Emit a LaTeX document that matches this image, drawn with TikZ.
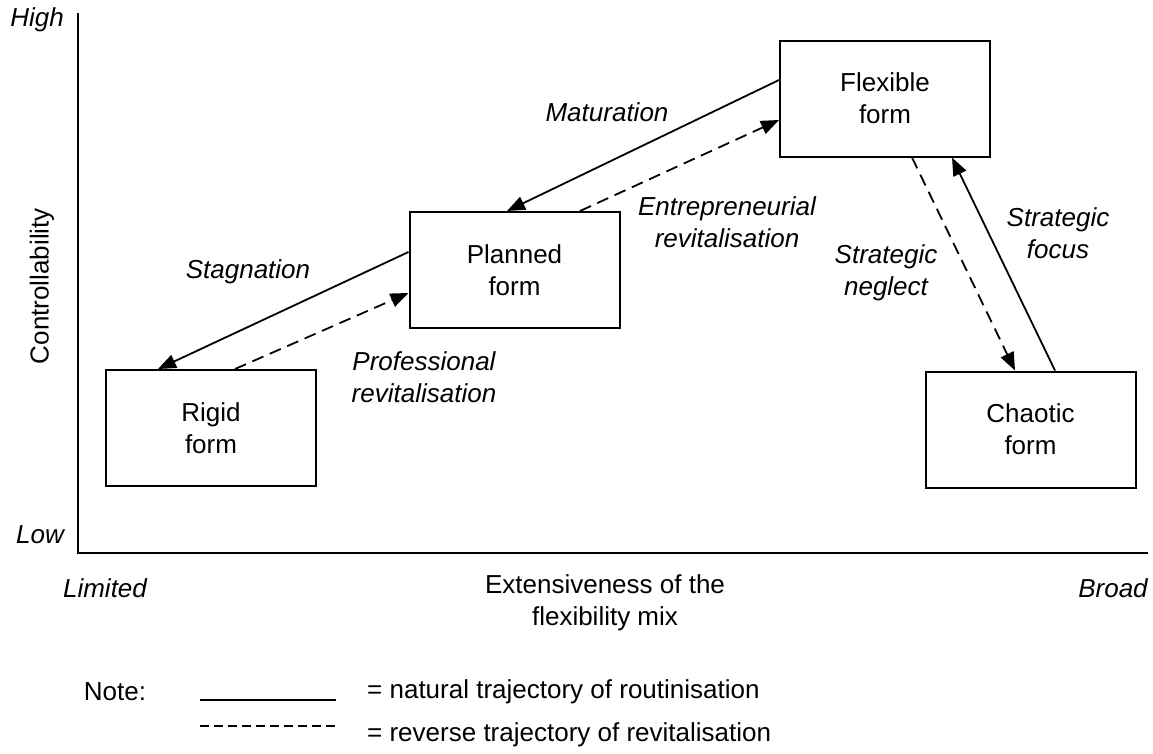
\documentclass[tikz,border=0pt]{standalone}
\usepackage{fontspec}
\setmainfont{Liberation Sans}
\usetikzlibrary{arrows.meta}
\begin{document}
\begin{tikzpicture}[x=1pt,y=-1pt,
  every node/.style={font=\fontsize{26}{32}\selectfont, inner sep=0pt, align=center},
  formbox/.style={draw, line width=2pt, rectangle, minimum width=210pt, minimum height=116pt},
  lbl/.style={font=\fontsize{26}{32}\selectfont\itshape},
  axis/.style={line width=2pt},
  natural/.style={line width=1.8pt, -{Triangle[length=18pt,width=14pt]}},
  reverse/.style={natural, dash pattern=on 12pt off 7pt}]
\useasboundingbox (0,0) rectangle (1153,753);

% axes
\coordinate (ytop) at (78,13);
\coordinate (origin) at (78,553);
\coordinate (xend) at (1148,553);
\draw[axis] (ytop) -- (origin) -- (xend);
\node[lbl] (high) at (37,20) {High};
\node[lbl] (low) at (40,535) {Low};
\node[lbl] (limited) at (105,588) {Limited};
\node[lbl] (broad) at (1113,588) {Broad};
\node (xtitle) at (605,603) {Extensiveness of the\\flexibility mix};
\node[rotate=90] (ytitle) at (42,286) {Controllability};

% organisational forms
\node[formbox] (rigid) at (211,428) {Rigid\\form};
\node[formbox] (planned) at (514.5,270) {Planned\\form};
\node[formbox] (flexible) at (885,98.5) {Flexible\\form};
\node[formbox] (chaotic) at (1030.5,429.5) {Chaotic\\form};

% trajectories
\draw[natural] ([yshift=18pt]planned.west) -- ([xshift=-53pt]rigid.north);
\draw[reverse] ([xshift=24pt]rigid.north) -- ([yshift=-23pt]planned.west);
\draw[natural] ([yshift=18.5pt]flexible.west) -- ([xshift=-7.5pt]planned.north);
\draw[reverse] ([xshift=65.5pt]planned.north) -- ([yshift=-21.5pt]flexible.west);
\draw[reverse] ([xshift=27pt]flexible.south) -- ([xshift=-15.5pt]chaotic.north);
\draw[natural] ([xshift=24.5pt]chaotic.north) -- ([xshift=67pt]flexible.south);

% trajectory labels
\node[lbl] (stag) at (248,272) {Stagnation};
\node[lbl] (prof) at (424,377) {Professional\\revitalisation};
\node[lbl] (matur) at (607,112) {Maturation};
\node[lbl] (entre) at (727,222) {Entrepreneurial\\revitalisation};
\node[lbl] (negl) at (886,273) {Strategic\\neglect};
\node[lbl] (focus) at (1058,233) {Strategic\\focus};

% legend
\node (note) at (115,692) {Note:};
\coordinate (ls1) at (200,700);
\coordinate (ls2) at (336,700);
\coordinate (ld1) at (200,726);
\coordinate (ld2) at (336,726);
\draw[line width=1.8pt] (ls1) -- (ls2);
\draw[line width=1.8pt, dash pattern=on 9pt off 5pt] (ld1) -- (ld2);
\node[anchor=west] (nat) at (367,692) {= natural trajectory of routinisation};
\node[anchor=west] (rev) at (367,735) {= reverse trajectory of revitalisation};
\end{tikzpicture}
\end{document}
